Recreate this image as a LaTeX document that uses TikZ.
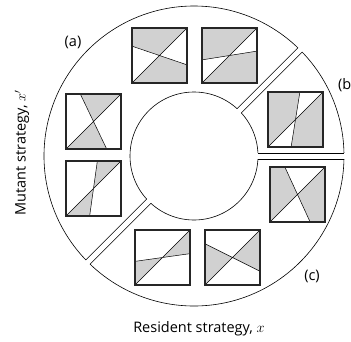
\documentclass[tikz,border=0pt]{standalone}
\usepackage{fontspec}
\setmainfont{Open Sans}
\usetikzlibrary{positioning}

\begin{document}
\begin{tikzpicture}[x=1pt,y=-1pt,
  ring/.style={line width=0.6pt},
  boxframe/.style={line width=1.2pt,black!85},
  greyarea/.style={fill=black!18},
  split/.style={line width=0.5pt},
  lbl/.style={inner sep=0pt,font=\fontsize{14.5}{17}\selectfont}]
  \useasboundingbox (0,0) rectangle (351,341);
  \coordinate (centre) at (194,156);
  % ring with three cuts
  \draw[ring] (centre) circle[radius=150];
  \draw[ring] (centre) circle[radius=64];
  \foreach \a in {0,45,225}{
    \begin{scope}[shift={(centre)},rotate=\a]
      \fill[white] (60,-3) rectangle (155,3);
      \draw[ring] (63.9,-3) -- (150,-3) (63.9,3) -- (150,3);
    \end{scope}}
  % (a)
  \begin{scope}[shift={(132,83)},x=55pt,y=55pt]
    \fill[greyarea] (0,0.67) -- (0,1) -- (1,1) -- (0.5,0.5) -- cycle;
    \fill[greyarea] (0.5,0.5) -- (1,0.33) -- (1,0) -- (0,0) -- cycle;
    \draw[split] (0,0) -- (1,1) (0,0.67) -- (1,0.33);
    \draw[boxframe] (0,0) rectangle (1,1);
  \end{scope}
  \begin{scope}[shift={(202,83)},x=55pt,y=55pt]
    \fill[greyarea] (0,0.42) -- (0,1) -- (1,1) -- (0.5,0.5) -- cycle;
    \fill[greyarea] (0.5,0.5) -- (1,0.58) -- (1,0) -- (0,0) -- cycle;
    \draw[split] (0,0) -- (1,1) (0,0.42) -- (1,0.58);
    \draw[boxframe] (0,0) rectangle (1,1);
  \end{scope}
  \begin{scope}[shift={(66,149)},x=55pt,y=55pt]
    \fill[greyarea] (0.26,1) -- (1,1) -- (0.5,0.5) -- cycle;
    \fill[greyarea] (0,0) -- (0.74,0) -- (0.5,0.5) -- cycle;
    \draw[split] (0,0) -- (1,1) (0.26,1) -- (0.74,0);
    \draw[boxframe] (0,0) rectangle (1,1);
  \end{scope}
  \begin{scope}[shift={(66,216)},x=55pt,y=55pt]
    \fill[greyarea] (0.57,1) -- (1,1) -- (0.5,0.5) -- cycle;
    \fill[greyarea] (0,0) -- (0.43,0) -- (0.5,0.5) -- cycle;
    \draw[split] (0,0) -- (1,1) (0.57,1) -- (0.43,0);
    \draw[boxframe] (0,0) rectangle (1,1);
  \end{scope}
  % (b)
  \begin{scope}[shift={(268,147)},x=55pt,y=55pt]
    \fill[greyarea] (0,0) -- (0,1) -- (0.58,1) -- (0.5,0.5) -- cycle;
    \fill[greyarea] (0.42,0) -- (1,0) -- (1,1) -- (0.5,0.5) -- cycle;
    \draw[split] (0,0) -- (1,1) (0.58,1) -- (0.42,0);
    \draw[boxframe] (0,0) rectangle (1,1);
  \end{scope}
  % (c)
  \begin{scope}[shift={(270,222)},x=55pt,y=55pt]
    \fill[greyarea] (0,0) -- (0,1) -- (0.27,1) -- (0.5,0.5) -- cycle;
    \fill[greyarea] (0.73,0) -- (1,0) -- (1,1) -- (0.5,0.5) -- cycle;
    \draw[split] (0,0) -- (1,1) (0.27,1) -- (0.73,0);
    \draw[boxframe] (0,0) rectangle (1,1);
  \end{scope}
  \begin{scope}[shift={(205,285)},x=55pt,y=55pt]
    \fill[greyarea] (0,0) -- (0,0.75) -- (0.5,0.5) -- cycle;
    \fill[greyarea] (1,1) -- (1,0.25) -- (0.5,0.5) -- cycle;
    \draw[split] (0,0) -- (1,1) (0,0.75) -- (1,0.25);
    \draw[boxframe] (0,0) rectangle (1,1);
  \end{scope}
  \begin{scope}[shift={(135,285)},x=55pt,y=55pt]
    \fill[greyarea] (0,0) -- (0,0.43) -- (0.5,0.5) -- cycle;
    \fill[greyarea] (1,1) -- (1,0.57) -- (0.5,0.5) -- cycle;
    \draw[split] (0,0) -- (1,1) (0,0.43) -- (1,0.57);
    \draw[boxframe] (0,0) rectangle (1,1);
  \end{scope}
  % labels
  \node[lbl] (laba) at (73,42) {(a)};
  \node[lbl,anchor=west] (labb) at (338,85) {(b)};
  \node[lbl] (labc) at (312,276) {(c)};
  \node[lbl] (resident) at (199,329) {Resident strategy, $x$};
  \node[lbl,rotate=90] (mutant) at (22,153) {Mutant strategy, $x'$};
\end{tikzpicture}
\end{document}
